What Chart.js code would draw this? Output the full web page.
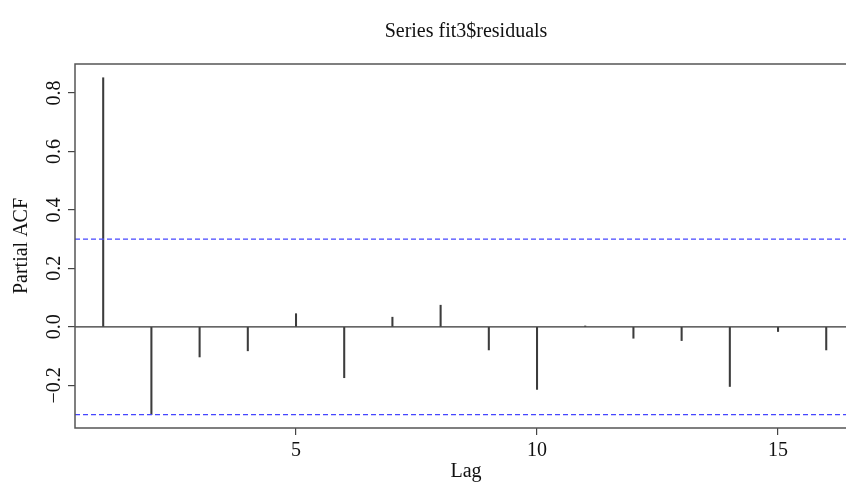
<!DOCTYPE html>
<html>
<head>
<meta charset="utf-8">
<script src="https://cdn.jsdelivr.net/npm/chart.js@4"></script>
<style>
  body { margin: 0; background: #fff; }
  #wrap { width: 846px; height: 489px; position: relative; }
</style>
</head>
<body>
<div id="wrap"><canvas id="myChart"></canvas></div>
<script>
// data
const lags = [1, 2, 3, 4, 5, 6, 7, 8, 9, 10, 11, 12, 13, 14, 15, 16];
const pacf = [0.852, -0.300, -0.103, -0.082, 0.045, -0.174, 0.033, 0.074,
              -0.079, -0.214, 0.003, -0.039, -0.047, -0.204, -0.016, -0.079];
const ciLimit = 0.30;
const xTicks = [5, 10, 15];
const yTicks = [-0.2, 0.0, 0.2, 0.4, 0.6, 0.8];
const xRange = [0.415, 16.41];
const yRange = [-0.346, 0.899];

const serif = '"Liberation Serif", "Times New Roman", serif';

const frameAndText = {
    id: 'frameAndText',
    afterDraw(chart) {
        const ctx = chart.ctx;
        const area = chart.chartArea;
        const y = chart.scales.y;
        ctx.save();
        // box (right side falls outside the picture)
        ctx.strokeStyle = '#555';
        ctx.lineWidth = 1.5;
        ctx.beginPath();
        ctx.moveTo(chart.width + 5, area.top);
        ctx.lineTo(area.left, area.top);
        ctx.lineTo(area.left, area.bottom);
        ctx.lineTo(chart.width + 5, area.bottom);
        ctx.stroke();

        ctx.fillStyle = '#111';
        ctx.font = '20px ' + serif;
        ctx.textAlign = 'center';
        ctx.textBaseline = 'middle';
        // rotated y tick labels
        yTicks.forEach(v => {
            const py = y.getPixelForValue(v);
            ctx.save();
            ctx.translate(55, py);
            ctx.rotate(-Math.PI / 2);
            ctx.fillText(v.toFixed(1).replace('-', '\u2212'), 0, 0);
            ctx.restore();
        });
        // axis titles and main title
        ctx.save();
        ctx.translate(22, (area.top + area.bottom) / 2);
        ctx.rotate(-Math.PI / 2);
        ctx.fillText('Partial ACF', 0, 0);
        ctx.restore();
        ctx.fillText('Lag', 466, 472);
        ctx.fillText('Series fit3$residuals', 466, 32);
        ctx.restore();
    }
};

document.addEventListener('DOMContentLoaded', function () {
    const ctx = document.getElementById('myChart');

    new Chart(ctx, {
        data: {
            datasets: [{
                type: 'bar',
                data: lags.map((l, i) => ({ x: l, y: pacf[i] })),
                backgroundColor: '#3c3c3c',
                barThickness: 1.4,
                order: 2
            }, {
                type: 'line',
                data: [{ x: xRange[0], y: 0 }, { x: xRange[1] + 1, y: 0 }],
                borderColor: '#333',
                borderWidth: 1.3,
                pointRadius: 0,
                order: 1
            }, {
                type: 'line',
                data: [{ x: xRange[0], y: ciLimit }, { x: xRange[1] + 1, y: ciLimit }],
                borderColor: 'rgb(70,70,255)',
                borderWidth: 1.3,
                borderDash: [5, 3],
                pointRadius: 0,
                order: 0
            }, {
                type: 'line',
                data: [{ x: xRange[0], y: -ciLimit }, { x: xRange[1] + 1, y: -ciLimit }],
                borderColor: 'rgb(70,70,255)',
                borderWidth: 1.3,
                borderDash: [5, 3],
                pointRadius: 0,
                order: 0
            }]
        },
        options: {
            responsive: true,
            maintainAspectRatio: false,
            animation: false,
            layout: { padding: { top: 64, left: 0, right: 0, bottom: 0 } },
            plugins: {
                legend: { display: false },
                tooltip: { enabled: false }
            },
            scales: {
                x: {
                    type: 'linear',
                    min: xRange[0],
                    max: xRange[1],
                    offset: false,
                    afterBuildTicks: s => { s.ticks = xTicks.map(v => ({ value: v })); },
                    afterFit: s => { s.height = 61; },
                    grid: { offset: false, drawOnChartArea: false, tickLength: 7, color: '#444', lineWidth: 1.2 },
                    border: { display: false },
                    ticks: {
                        color: '#111',
                        padding: 4,
                        maxRotation: 0,
                        font: { family: serif, size: 20 }
                    }
                },
                y: {
                    type: 'linear',
                    min: yRange[0],
                    max: yRange[1],
                    afterBuildTicks: s => { s.ticks = yTicks.map(v => ({ value: v })); },
                    afterFit: s => { s.width = 75; },
                    grid: { drawOnChartArea: false, tickLength: 7, color: '#444', lineWidth: 1.2 },
                    border: { display: false },
                    ticks: { display: false }
                }
            }
        },
        plugins: [frameAndText]
    });
});
</script>
</body>
</html>
